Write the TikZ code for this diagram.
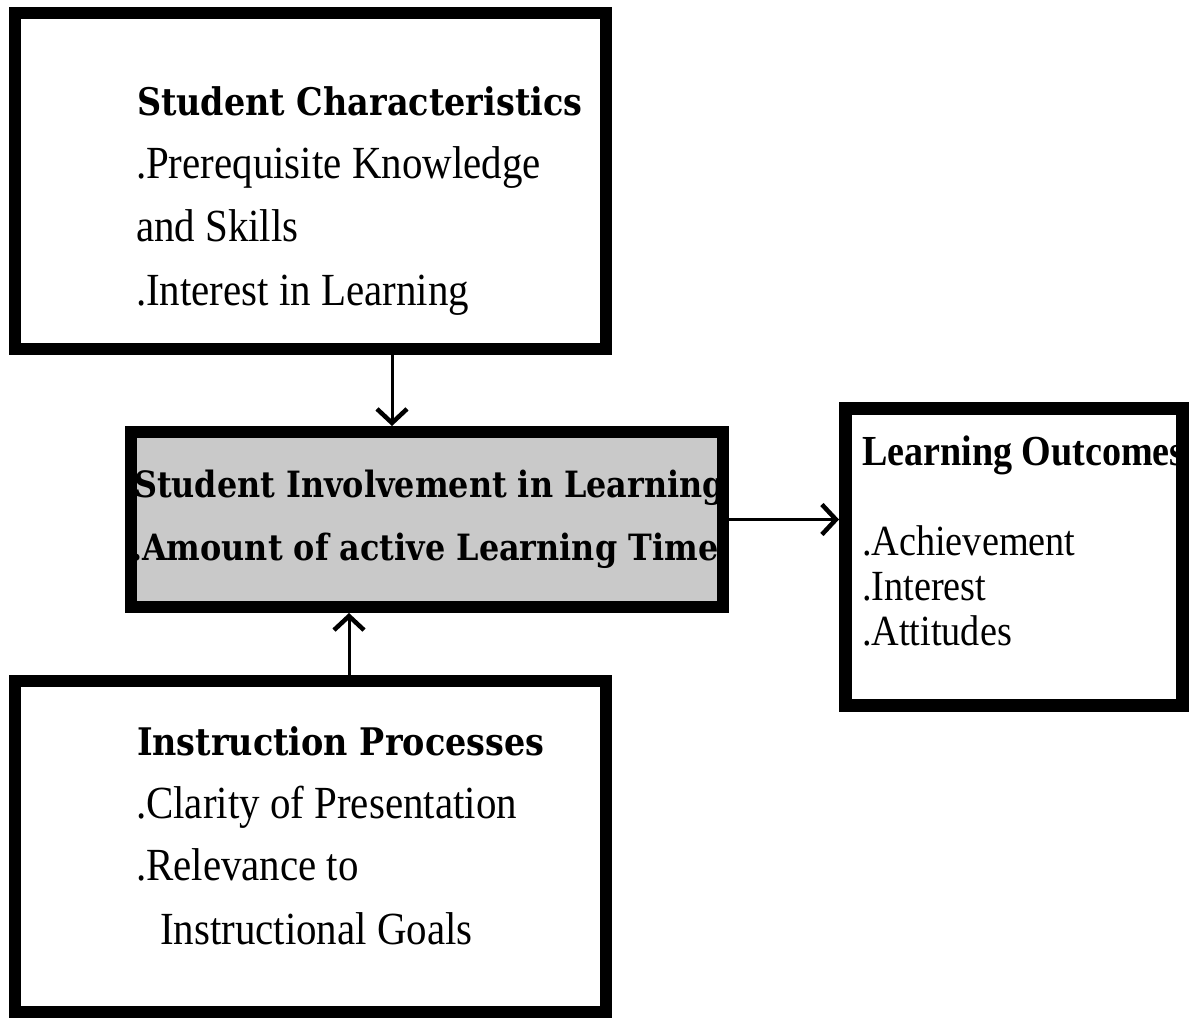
\documentclass[tikz,border=0pt]{standalone}
\usepackage{fontspec}
\setmainfont{Liberation Serif}[FakeStretch=0.89]
\newfontfamily\titlefont{DejaVu Serif}[FakeStretch=0.88]
\usetikzlibrary{arrows.meta}

\begin{document}
\begin{tikzpicture}[x=1pt,y=-1pt,
  box/.style={draw=black,line width=12pt,fill=white,inner sep=0pt,outer sep=6pt},
  shaded/.style={box,fill=black!21},
  arr/.style={line width=3pt,-{Straight Barb[length=14pt,width=30pt,line width=4.5pt]}},
  txt/.style={anchor=base west,inner sep=0pt,outer sep=0pt},
  item/.style={txt,font=\fontsize{46}{46}\selectfont},
  itemsm/.style={txt,font=\fontsize{43}{43}\selectfont},
  head/.style={txt,font=\titlefont\bfseries\fontsize{38}{38}\selectfont},
  midtext/.style={txt,font=\titlefont\bfseries\fontsize{36.2}{36.2}\selectfont},
  outhead/.style={txt,font=\bfseries\fontsize{42.8}{42.8}\selectfont}]

\useasboundingbox[fill=white] (0,0) rectangle (1189,1018);

% boxes
\node[box,minimum width=591pt,minimum height=336pt] (top) at (310.5,181) {};
\node[shaded,minimum width=592pt,minimum height=175pt] (mid) at (427,519.5) {};
\node[box,line width=13pt,outer sep=6.5pt,minimum width=337pt,minimum height=297pt] (out) at (1014,557) {};
\node[box,minimum width=591pt,minimum height=331pt] (bot) at (310.5,846.5) {};

% student characteristics
\node[head] (t1) at (137,115) {Student Characteristics};
\node[item] (t2) at (136,178) {.Prerequisite Knowledge};
\node[item] (t3) at (136,241) {and Skills};
\node[item] (t4) at (136,305) {.Interest in Learning};

% student involvement (text runs into the frame and is cut off there)
\begin{scope}
  \clip (137,438) rectangle (717,601);
  \node[midtext] (m1) at (134,497) {Student Involvement in Learning};
  \node[midtext] (m2) at (131,560) {.Amount of active Learning Time.};
\end{scope}
\node[draw=black,line width=12pt,inner sep=0pt,minimum width=592pt,minimum height=175pt] (midframe) at (mid.center) {};

% learning outcomes
\begin{scope}
  \clip (852,415) rectangle (1176,699);
  \node[outhead] (o1) at (862,465) {Learning Outcomes};
\end{scope}
\node[itemsm] (o2) at (862,555) {.Achievement};
\node[itemsm] (o3) at (862,600) {.Interest};
\node[itemsm] (o4) at (862,645) {.Attitudes};

% instruction processes
\node[head] (b1) at (137,755) {Instruction Processes};
\node[item] (b2) at (136,818) {.Clarity of Presentation};
\node[item] (b3) at (136,880) {.Relevance to};
\node[item] (b4) at (160,944) {Instructional Goals};

% connectors
\coordinate (xa) at (392,0);
\coordinate (xb) at (349,0);
\draw[arr] (top.south -| xa) -- (mid.north -| xa);
\draw[arr] (bot.north -| xb) -- (mid.south -| xb);
\draw[arr] (mid.east) -- (mid.east -| out.west);
\end{tikzpicture}
\end{document}
